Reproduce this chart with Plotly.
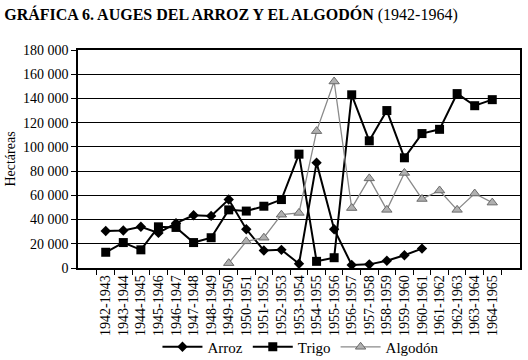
import plotly.graph_objects as go

categories = ["1942-1943","1943-1944","1944-1945","1945-1946","1946-1947","1947-1948",
              "1948-1949","1949-1950","1950-1951","1951-1952","1952-1953","1953-1954",
              "1954-1955","1955-1956","1956-1957","1957-1958","1958-1959","1959-1960",
              "1960-1961","1961-1962","1962-1963","1963-1964","1964-1965"]

arroz = [30500, 31000, 34000, 29000, 37000, 43500, 43000, 56500, 32000, 14500, 15000,
         3500, 87000, 32000, 2500, 3000, 6000, 10500, 16000, None, None, None, None]
trigo = [13000, 21000, 15000, 34000, 33500, 21000, 25000, 48000, 47000, 51000, 56500,
         94000, 5500, 8500, 143000, 105000, 130000, 91000, 111000, 114500, 144000, 134000, 139000]
algodon = [None, None, None, None, None, None, None, 4000, 22000, 25000, 44000,
           45500, 113000, 154000, 49500, 74000, 48000, 78500, 57000, 64000, 48000, 61500, 54000]

y_ticks = [0, 20000, 40000, 60000, 80000, 100000, 120000, 140000, 160000, 180000]
y_tick_labels = ["0", "20 000", "40 000", "60 000", "80 000", "100 000", "120 000",
                 "140 000", "160 000", "180 000"]

serif = "Liberation Serif, Times New Roman, serif"

fig = go.Figure()
fig.add_trace(go.Scatter(x=categories, y=arroz, name="Arroz", mode="lines+markers",
                         line=dict(color="black", width=2),
                         marker=dict(symbol="diamond", size=8, color="black")))
fig.add_trace(go.Scatter(x=categories, y=trigo, name="Trigo", mode="lines+markers",
                         line=dict(color="black", width=2),
                         marker=dict(symbol="square", size=9, color="black")))
fig.add_trace(go.Scatter(x=categories, y=algodon, name="Algodón", mode="lines+markers",
                         line=dict(color="#8a8a8a", width=1.3),
                         marker=dict(symbol="triangle-up", size=9, color="#b0b0b0",
                                     line=dict(color="#6a6a6a", width=1))))

fig.update_layout(
    width=528, height=360, autosize=False,
    paper_bgcolor="white", plot_bgcolor="white",
    margin=dict(l=78, r=8, t=50, b=92, autoexpand=False),
    font=dict(family=serif, size=13, color="black"),
    title=dict(text="<b>GRÁFICA 6. AUGES DEL ARROZ Y EL ALGODÓN</b> (1942-1964)",
               x=0.008, xanchor="left", y=0.96, yanchor="middle",
               font=dict(family=serif, size=16, color="black")),
    showlegend=True,
    legend=dict(orientation="h", x=0.57, xanchor="center", xref="container",
                y=0.036, yref="container", yanchor="middle",
                bgcolor="rgba(0,0,0,0)",
                font=dict(family=serif, size=15), itemwidth=40, tracegroupgap=0),
    xaxis=dict(type="category", tickangle=-90, ticks="outside", tickson="boundaries",
               ticklen=5, tickcolor="black", showline=True, linecolor="black",
               linewidth=1.5, mirror=True, showgrid=False, automargin=False,
               tickfont=dict(family=serif, size=14)),
    yaxis=dict(range=[0, 180000], tickvals=y_ticks, ticktext=y_tick_labels,
               ticks="outside", ticklen=5, tickcolor="black",
               showline=True, linecolor="black", linewidth=1.5, mirror=True,
               showgrid=True, gridcolor="black", gridwidth=1, zeroline=False,
               automargin=False,
               tickfont=dict(family=serif, size=14),
               title=dict(text="Hectáreas", font=dict(family=serif, size=14), standoff=4)),
)

fig.write_html("out.html", config={"displayModeBar": False},
               post_script="document.body.style.margin='0';document.body.style.padding='0';")
